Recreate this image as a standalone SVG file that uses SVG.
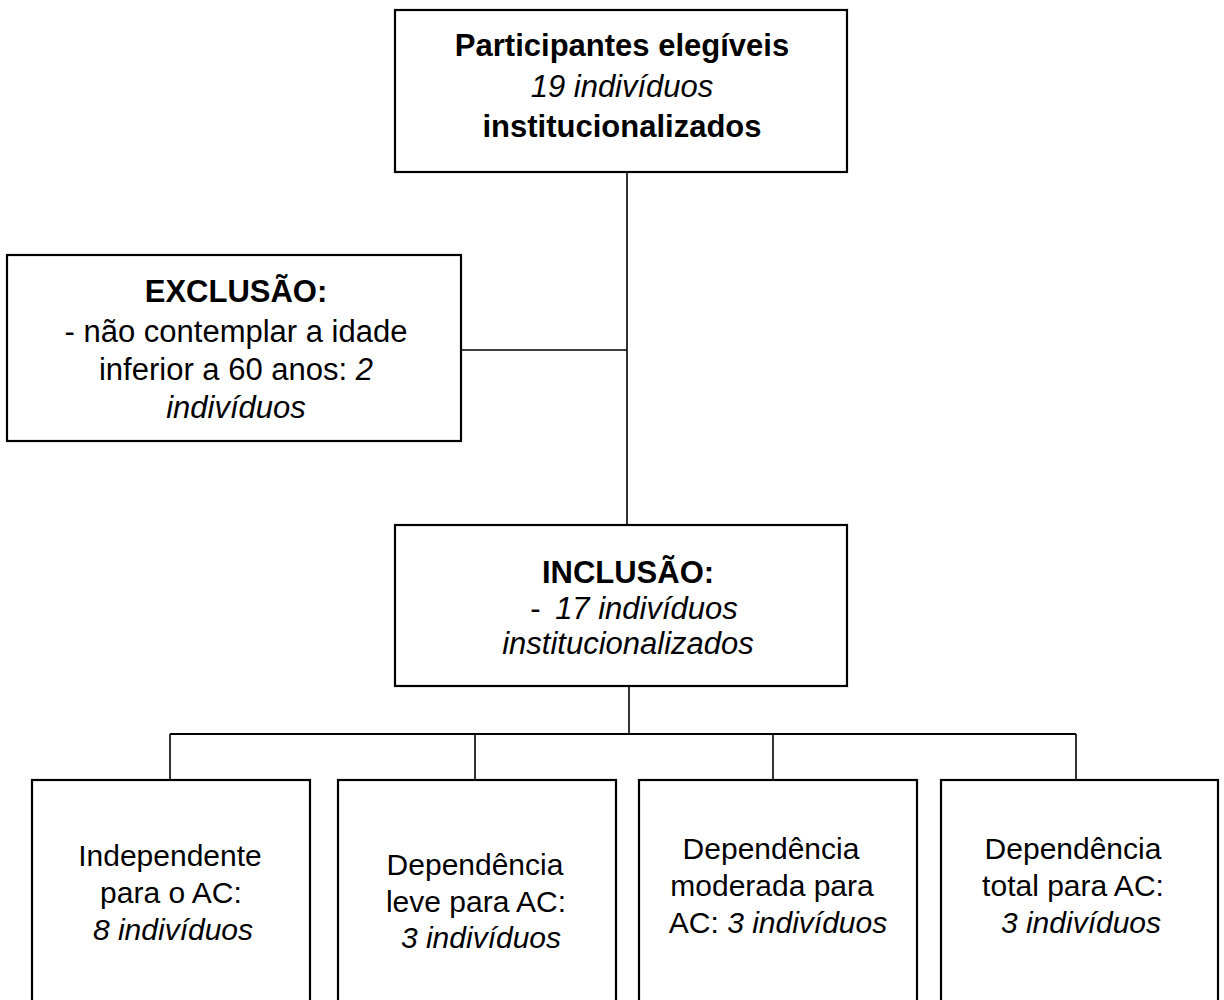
<svg xmlns="http://www.w3.org/2000/svg" width="1224" height="1000" viewBox="0 0 1224 1000">
<style>
.box{fill:#fff;stroke:#000;stroke-width:2.2}
.ln{fill:none;stroke:#000;stroke-width:1.6}
.t{font-family:"Liberation Sans",Arial,sans-serif;text-anchor:middle;fill:#000}
.b{font-weight:bold}
.i{font-style:italic}
.h{font-size:31px}
.s{font-size:30px}
</style>
<rect width="1224" height="1000" fill="#fff"/>
<g id="connectors">
<line class="ln" x1="627" y1="172" x2="627" y2="525"/>
<line class="ln" x1="461" y1="350" x2="627" y2="350"/>
<line class="ln" x1="629" y1="686" x2="629" y2="734"/>
<line class="ln" x1="170" y1="734" x2="1076" y2="734" style="stroke-width:2"/>
<line class="ln" x1="170" y1="734" x2="170" y2="780"/>
<line class="ln" x1="475" y1="734" x2="475" y2="780"/>
<line class="ln" x1="773" y1="734" x2="773" y2="780"/>
<line class="ln" x1="1076" y1="734" x2="1076" y2="780"/>
</g>
<g id="elegiveis">
<rect class="box" x="395" y="10" width="452" height="162"/>
<text class="t h b" x="622" y="56">Participantes elegíveis</text>
<text class="t h i" x="622" y="97">19 indivíduos</text>
<text class="t h b" x="622" y="137">institucionalizados</text>
</g>
<g id="exclusao">
<rect class="box" x="7" y="255" width="454" height="186"/>
<text class="t h b" x="236" y="302">EXCLUSÃO:</text>
<text class="t h" x="236" y="342">- não contemplar a idade</text>
<text class="t h" x="236" y="380">inferior a 60 anos: <tspan class="i">2</tspan></text>
<text class="t h i" x="236" y="418">indivíduos</text>
</g>
<g id="inclusao">
<rect class="box" x="395" y="525" width="452" height="161"/>
<text class="t h b" x="628" y="583">INCLUSÃO:</text>
<text class="t h" x="634" y="619">- <tspan class="i" dx="6">17 indivíduos</tspan></text>
<text class="t h i" x="628" y="654">institucionalizados</text>
</g>
<g id="independente">
<rect class="box" x="32" y="780" width="278" height="240"/>
<text class="t s" x="170" y="866">Independente</text>
<text class="t s" x="171" y="903">para o AC:</text>
<text class="t s i" x="173" y="940">8 indivíduos</text>
</g>
<g id="leve">
<rect class="box" x="338" y="780" width="278" height="240"/>
<text class="t s" x="475" y="875">Dependência</text>
<text class="t s" x="476" y="912">leve para AC:</text>
<text class="t s i" x="481" y="948">3 indivíduos</text>
</g>
<g id="moderada">
<rect class="box" x="639" y="780" width="278" height="240"/>
<text class="t s" x="771" y="859">Dependência</text>
<text class="t s" x="772" y="896">moderada para</text>
<text class="t s" x="778" y="933">AC: <tspan class="i">3 indivíduos</tspan></text>
</g>
<g id="total">
<rect class="box" x="941" y="780" width="277" height="240"/>
<text class="t s" x="1073" y="859">Dependência</text>
<text class="t s" x="1073" y="896">total para AC:</text>
<text class="t s i" x="1081" y="933">3 indivíduos</text>
</g>
</svg>
